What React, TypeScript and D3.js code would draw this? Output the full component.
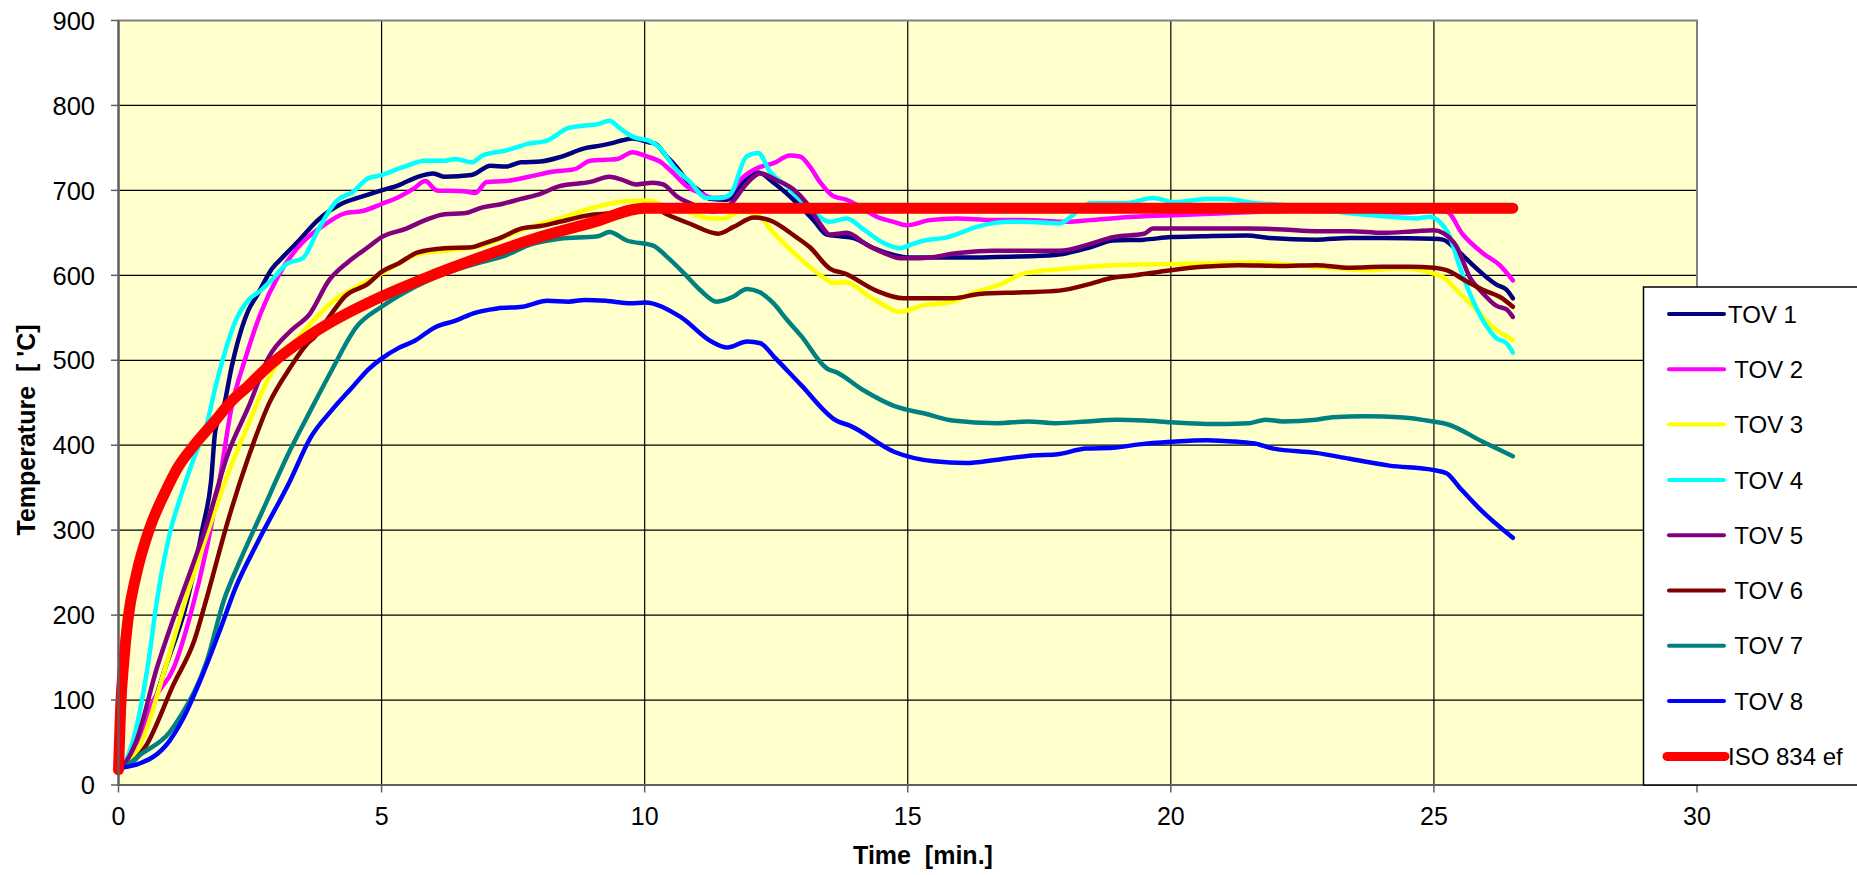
import React from "react";
import * as d3 from "d3";

type Pt = [number, number];

const xTicks = [0, 5, 10, 15, 20, 25, 30];
const yTicks = [0, 100, 200, 300, 400, 500, 600, 700, 800, 900];

const tov1: Pt[] = [[0,20],[0.1,22],[0.42,52],[0.89,138],[1.29,213],[1.6,303],[1.76,358],[1.84,417],[2.0,445],[2.15,492],[2.31,531],[2.47,559],[2.63,576],[2.92,608],[3.13,622],[3.43,641],[3.79,665],[4.23,684],[4.59,692],[5,700],[5.32,706],[5.69,716],[5.98,720],[6.2,716],[6.71,718],[7.07,729],[7.36,728],[7.65,733],[8.02,734],[8.38,739],[8.89,750],[9.18,753],[9.4,756],[9.58,759],[9.77,761],[10.06,757],[10.2,755],[10.42,740],[10.6,728],[10.8,712],[11.05,699],[11.24,690],[11.56,689],[11.88,710],[12.16,721],[12.45,709],[12.83,689],[13.21,665],[13.46,648],[13.71,646],[13.97,644],[14.35,632],[14.73,624],[15,621],[15.93,621],[16.95,622],[17.8,624],[18.47,633],[18.9,641],[19.49,642],[20,645],[20.6,646],[21.44,647],[21.87,644],[22.76,642],[23.4,644],[24.03,644],[25,643],[25.17,642],[25.43,630],[25.81,608],[26.19,589],[26.38,583],[26.5,573]];

const tov2: Pt[] = [[0,20],[0.1,22],[0.42,60],[0.66,99],[1.05,138],[1.37,201],[1.68,280],[1.92,358],[2.15,445],[2.4,500],[2.7,555],[3.06,602],[3.5,639],[3.86,657],[4.3,673],[4.66,676],[5,684],[5.32,692],[5.61,702],[5.83,711],[6.05,700],[6.56,699],[6.78,697],[7.0,710],[7.36,711],[7.8,716],[8.24,722],[8.67,725],[8.97,735],[9.26,736],[9.48,737],[9.77,745],[10.04,740],[10.29,734],[10.55,720],[10.8,705],[11.05,697],[11.31,691],[11.56,692],[11.81,712],[12.13,726],[12.45,732],[12.76,741],[12.95,740],[13.14,728],[13.33,710],[13.59,693],[13.84,689],[14.09,681],[14.41,669],[14.73,663],[14.98,659],[15.42,665],[15.93,667],[16.61,665],[17.2,665],[18.05,663],[18.47,665],[19.32,669],[20.17,671],[21.02,673],[22.44,676],[23.5,675],[24.5,674],[25.0,676],[25.24,675],[25.55,648],[25.93,626],[26.25,612],[26.5,594]];

const tov3: Pt[] = [[0,20],[0.1,22],[0.42,48],[0.89,138],[1.29,221],[1.68,295],[2.08,366],[2.47,425],[2.86,480],[3.26,515],[3.65,543],[4.05,568],[4.45,584],[5,602],[5.69,625],[6.2,629],[6.92,635],[7.65,653],[8.38,667],[9.11,681],[9.6,687],[10.04,688],[10.42,681],[10.85,674],[11.24,667],[11.5,667],[11.81,675],[12.1,673],[12.45,650],[12.95,620],[13.39,598],[13.59,591],[13.84,592],[14.22,577],[14.6,563],[14.85,557],[15.25,564],[15.85,569],[16.19,578],[16.78,590],[17.2,602],[18.05,608],[18.9,612],[19.75,613],[20.6,614],[21.49,615],[22.76,610],[23.71,606],[24.35,608],[25,602],[25.17,598],[25.43,583],[25.81,559],[26.12,539],[26.38,528],[26.5,524]];

const tov4: Pt[] = [[0,20],[0.1,25],[0.34,68],[0.58,150],[0.73,217],[0.97,295],[1.2,343],[1.44,386],[1.68,425],[1.84,468],[2.0,505],[2.23,547],[2.47,571],[2.7,582],[2.93,596],[3.21,614],[3.5,620],[3.79,653],[4.15,688],[4.45,698],[4.74,714],[5,718],[5.39,727],[5.83,735],[6.2,735],[6.41,737],[6.71,733],[6.92,741],[7.36,747],[7.8,755],[8.16,759],[8.53,773],[8.82,776],[9.11,778],[9.33,782],[9.53,773],[9.78,763],[10.1,758],[10.29,750],[10.55,728],[10.86,710],[11.18,691],[11.43,691],[11.62,695],[11.94,740],[12.16,744],[12.38,722],[12.7,705],[12.95,689],[13.27,671],[13.52,663],[13.84,667],[14.16,654],[14.54,638],[14.85,632],[15.1,637],[15.25,640],[15.76,645],[16.36,658],[16.95,663],[17.63,662],[17.88,661],[18.22,675],[18.47,685],[19.15,685],[19.66,691],[20.08,686],[20.68,690],[21.02,690],[21.61,685],[22.12,683],[23.4,673],[24.15,669],[24.66,667],[24.92,669],[25.11,663],[25.3,646],[25.49,610],[25.68,579],[25.93,547],[26.19,526],[26.38,520],[26.5,509]];

const tov5: Pt[] = [[0,20],[0.1,24],[0.34,52],[0.73,138],[1.05,197],[1.44,264],[1.68,307],[2.08,390],[2.47,445],[2.86,504],[3.28,535],[3.64,555],[4.0,594],[4.37,616],[4.74,633],[5,645],[5.47,655],[5.83,665],[6.2,672],[6.56,673],[6.92,680],[7.29,684],[7.65,690],[8.02,696],[8.38,705],[8.97,710],[9.33,716],[9.55,713],[9.84,707],[10.16,709],[10.35,707],[10.61,693],[10.93,683],[11.31,675],[11.62,683],[11.94,708],[12.19,720],[12.51,712],[12.83,701],[13.08,685],[13.33,661],[13.52,648],[13.84,650],[14.22,636],[14.6,625],[14.85,620],[15.23,620],[15.93,626],[16.61,629],[17.29,629],[17.88,629],[18.47,637],[18.9,645],[19.49,649],[19.66,655],[20.6,655],[21.44,655],[22.12,654],[22.76,652],[23.4,652],[24.03,650],[24.66,652],[25,653],[25.17,650],[25.43,634],[25.68,598],[25.93,579],[26.19,564],[26.38,560],[26.5,551]];

const tov6: Pt[] = [[0,20],[0.1,21],[0.5,44],[1.05,119],[1.44,170],[1.68,221],[2.08,311],[2.47,386],[2.86,449],[3.27,492],[3.58,519],[3.72,527],[4.05,555],[4.3,575],[4.74,590],[5,604],[5.32,614],[5.69,627],[6.2,632],[6.71,633],[6.92,637],[7.29,645],[7.65,655],[8.02,658],[8.38,663],[8.97,671],[9.33,673],[9.69,680],[10.1,682],[10.42,672],[10.85,661],[11.4,649],[11.69,657],[12.08,668],[12.37,665],[12.88,645],[13.14,633],[13.52,608],[13.81,602],[14.4,582],[14.92,573],[15.85,573],[16.36,578],[17.2,580],[17.88,582],[18.47,590],[18.81,596],[19.32,600],[20,606],[20.6,610],[21.27,612],[22.12,611],[22.76,612],[23.4,609],[24.03,610],[24.54,610],[25,609],[25.24,606],[25.62,593],[25.93,583],[26.3,573],[26.5,563]];

const tov7: Pt[] = [[0,20],[0.1,21],[0.42,36],[0.97,62],[1.2,83],[1.68,146],[2.0,217],[2.31,264],[2.71,319],[3.26,394],[3.65,441],[4.05,488],[4.52,539],[5,563],[5.47,581],[6.2,602],[6.92,616],[7.29,622],[7.87,637],[8.38,643],[9.11,646],[9.33,651],[9.66,641],[10.16,635],[10.42,622],[10.74,603],[11.05,583],[11.37,569],[11.69,575],[11.94,584],[12.19,580],[12.45,567],[12.7,548],[12.97,529],[13.47,490],[13.64,486],[14.15,465],[14.75,446],[15.34,437],[15.85,429],[16.7,426],[17.29,428],[17.8,426],[18.4,428],[18.98,430],[19.5,429],[20,427],[20.68,425],[21.49,426],[21.8,430],[22.12,428],[22.76,430],[23.07,433],[23.71,434],[24.35,433],[24.98,428],[25.24,425],[25.93,404],[26.5,387]];

const tov8: Pt[] = [[0,20],[0.1,21],[0.34,24],[0.97,52],[1.2,75],[1.6,130],[1.92,181],[2.23,233],[2.63,284],[3.26,358],[3.65,409],[4.05,441],[4.44,468],[4.76,490],[5,502],[5.31,514],[5.63,523],[6.02,539],[6.42,547],[6.73,555],[7.2,561],[7.68,563],[8.15,570],[8.55,569],[8.86,571],[9.26,570],[9.73,567],[10.0,568],[10.68,551],[11.27,522],[11.57,515],[11.95,522],[12.2,520],[12.46,504],[12.97,471],[13.64,429],[13.9,423],[14.75,392],[15.5,381],[16.1,379],[16.7,383],[17.37,388],[17.8,389],[18.39,396],[18.9,397],[19.4,401],[20,404],[20.68,406],[21.27,404],[21.6,402],[21.95,396],[22.76,391],[23.4,384],[24.15,376],[24.98,371],[25.24,367],[25.49,350],[25.87,325],[26.5,291]];

const iso834: Pt[] = [[0,18],[0.04,90],[0.1,145],[0.18,195],[0.34,248],[0.58,300],[0.89,345],[1.13,374],[1.44,400],[1.84,429],[2.15,452],[2.47,470],[2.8,490],[3.65,530],[5,575],[6,601],[7,624],[8,645],[9,662],[10,679],[26.5,679]];

const seriesNames = ["TOV 1", " TOV 2", " TOV 3", " TOV 4", " TOV 5", " TOV 6", " TOV 7", " TOV 8", "ISO 834 ef"];
const seriesColors = ["#000080", "#FF00FF", "#FFFF00", "#00FFFF", "#800080", "#800000", "#008080", "#0000FF", "#FF0000"];
const seriesData = [tov1, tov2, tov3, tov4, tov5, tov6, tov7, tov8, iso834];

const W = 1857;
const H = 875;
const L = 118.5, R = 1697, T = 20.5, B = 785;
const FONT = "'Liberation Sans', Arial, sans-serif";

export default function App() {
  const x = d3.scaleLinear().domain([0, 30]).range([L, R]);
  const y = d3.scaleLinear().domain([0, 900]).range([B, T]);
  const line = d3
    .line<Pt>()
    .x((d) => x(d[0]))
    .y((d) => y(d[1]))
    .curve(d3.curveMonotoneX);

  const legX = 1643.5, legY = 287, legStep = 55.3, legFirst = 314;

  return (
    <svg
      width={W}
      height={H}
      style={{ position: "absolute", left: 0, top: 0, background: "#fff" }}
      fontFamily={FONT}
    >
      <rect x={L} y={T} width={R - L} height={B - T} fill="#FFFFCC" />
      {yTicks.slice(1, -1).map((v) => (
        <line key={"gy" + v} x1={L} x2={R} y1={y(v)} y2={y(v)} stroke="#000" strokeWidth={1.2} />
      ))}
      {xTicks.slice(1, -1).map((v) => (
        <line key={"gx" + v} x1={x(v)} x2={x(v)} y1={T} y2={B} stroke="#000" strokeWidth={1.2} />
      ))}
      <rect x={L} y={T} width={R - L} height={B - T} fill="none" stroke="#808080" strokeWidth={2} />
      {seriesData.map((d, i) => (
        <path
          key={"s" + i}
          d={line(d) || ""}
          fill="none"
          stroke={seriesColors[i]}
          strokeWidth={i === 8 ? 11 : 4.5}
          strokeLinecap="round"
          strokeLinejoin="round"
        />
      ))}
      <line x1={L} x2={L} y1={T} y2={B + 1} stroke="#606060" strokeWidth={2.2} />
      <line x1={L - 1} x2={R} y1={B} y2={B} stroke="#606060" strokeWidth={2.2} />
      {yTicks.map((v) => (
        <g key={"ty" + v}>
          <line x1={L - 7.5} x2={L} y1={y(v)} y2={y(v)} stroke="#606060" strokeWidth={1.5} />
          <text x={95} y={y(v)} dy="0.36em" textAnchor="end" fontSize={25.5} fill="#000">
            {v}
          </text>
        </g>
      ))}
      {xTicks.map((v) => (
        <g key={"tx" + v}>
          <line x1={x(v)} x2={x(v)} y1={B} y2={B + 7.5} stroke="#606060" strokeWidth={1.5} />
          <text x={x(v)} y={825} textAnchor="middle" fontSize={25} fill="#000">
            {v}
          </text>
        </g>
      ))}
      <text
        x={923}
        y={864}
        textAnchor="middle"
        fontSize={25}
        fontWeight="bold"
        style={{ whiteSpace: "pre" }}
      >
        {"Time  [min.]"}
      </text>
      <text
        transform={`translate(35,430) rotate(-90)`}
        textAnchor="middle"
        fontSize={25}
        fontWeight="bold"
        style={{ whiteSpace: "pre" }}
      >
        {"Temperature  [ 'C]"}
      </text>
      <rect x={legX} y={legY} width={W - legX + 20} height={B - legY} fill="#fff" stroke="#000" strokeWidth={1.5} />
      {seriesNames.map((n, i) => {
        const ly = legFirst + i * legStep;
        const iso = i === 8;
        return (
          <g key={"l" + i}>
            <line
              x1={iso ? 1667 : 1669}
              x2={iso ? 1725 : 1724}
              y1={ly}
              y2={ly}
              stroke={seriesColors[i]}
              strokeWidth={iso ? 9 : 4}
              strokeLinecap="round"
            />
            <text x={1728} y={ly} dy="0.36em" fontSize={24} fill="#000" style={{ whiteSpace: "pre" }}>
              {n}
            </text>
          </g>
        );
      })}
    </svg>
  );
}
